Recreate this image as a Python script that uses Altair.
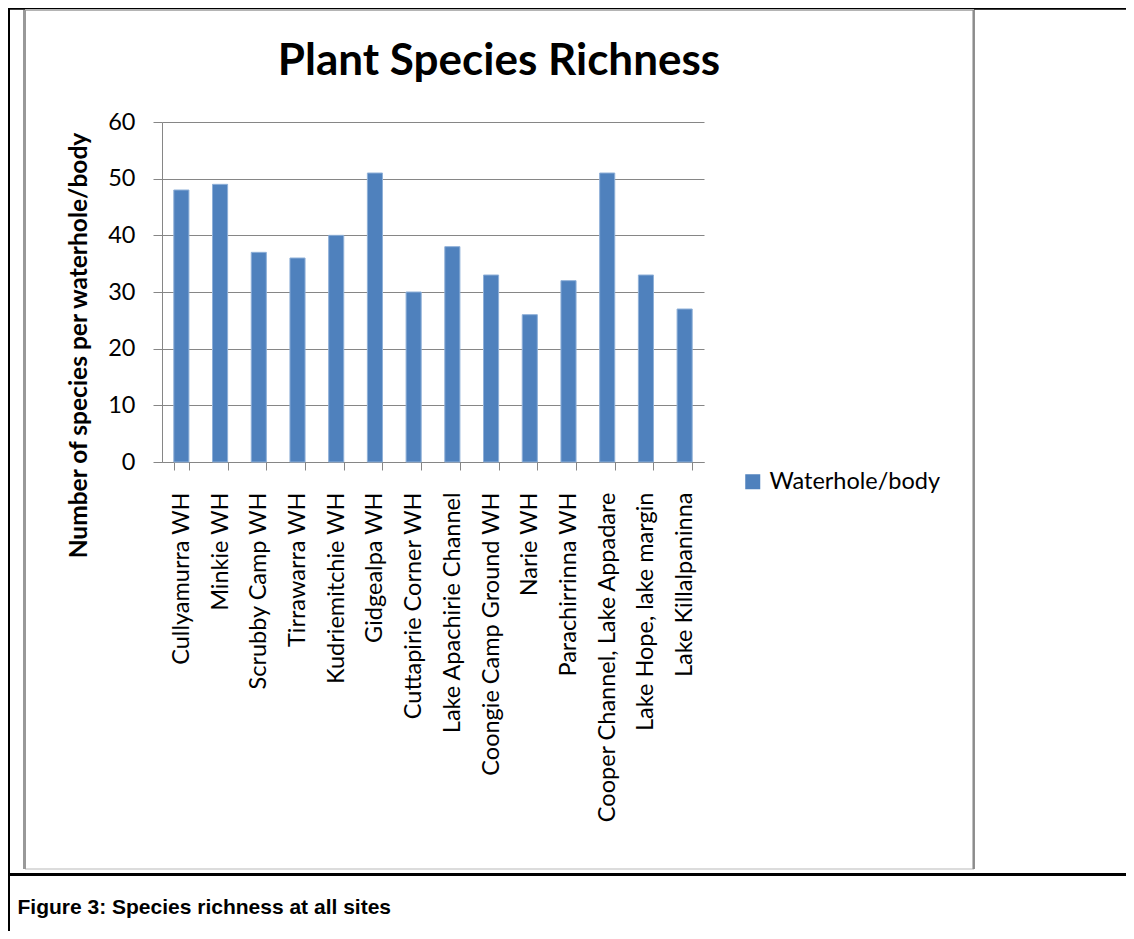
import altair as alt
import pandas as pd

sites = [
    "Cullyamurra WH", "Minkie WH", "Scrubby Camp WH", "Tirrawarra WH",
    "Kudriemitchie WH", "Gidgealpa WH", "Cuttapirie Corner WH",
    "Lake Apachirie Channel", "Coongie Camp Ground WH", "Narie WH",
    "Parachirrinna WH", "Cooper Channel, Lake Appadare",
    "Lake Hope, lake margin", "Lake Killalpaninna",
]
richness = [48, 49, 37, 36, 40, 51, 30, 38, 33, 26, 32, 51, 33, 27]
series_name = "Waterhole/body"
y_ticks = [0, 10, 20, 30, 40, 50, 60]

title_text = "Plant Species Richness"
y_title = "Number of species per waterhole/body"
caption = "Figure 3: Species richness at all sites"

df = pd.DataFrame({"site": sites, "richness": richness, "series": [series_name] * len(sites)})

W, H = 542, 340
PAD_L, PAD_T = 154, 114
TOTAL_W, TOTAL_H = 1118, 923

FONT = "Lato"
GRAY = "#868686"
LABEL_SIZE = 23.5

bars = alt.Chart(df).mark_bar(stroke="#8fb0d8", strokeWidth=1).encode(
    x=alt.X(
        "site:N",
        sort=sites,
        scale=alt.Scale(paddingInner=0.61, paddingOuter=0.305),
        axis=alt.Axis(
            title=caption,
            titleFont="Liberation Sans",
            titleFontWeight="bold",
            titleFontSize=21,
            titleColor="#000000",
            titleAnchor="start",
            titleAlign="left",
            titleBaseline="alphabetic",
            titleX=-145,
            titleY=451,
            labelAngle=270,
            labelFont=FONT,
            labelFontSize=LABEL_SIZE,
            labelColor="#000000",
            labelPadding=22,
            labelLimit=400,
            tickBand="extent",
            tickSize=8,
            tickColor=GRAY,
            domainColor=GRAY,
            grid=False,
        ),
    ),
    y=alt.Y(
        "richness:Q",
        scale=alt.Scale(domain=[0, 60], nice=False),
        axis=alt.Axis(
            values=y_ticks,
            title=y_title,
            titleFont=FONT,
            titleFontWeight="bold",
            titleFontSize=24.5,
            titleColor="#000000",
            titleAngle=270,
            titleAlign="center",
            titleBaseline="middle",
            titleX=-83,
            titleY=223,
            labelFont=FONT,
            labelFontSize=LABEL_SIZE,
            labelColor="#000000",
            labelPadding=18,
            tickSize=9,
            tickColor=GRAY,
            domainColor=GRAY,
            gridColor=GRAY,
            gridWidth=1,
            grid=True,
        ),
    ),
    color=alt.Color(
        "series:N",
        scale=alt.Scale(domain=[series_name], range=["#4F81BD"]),
        legend=alt.Legend(
            title=None,
            orient="none",
            legendX=579,
            legendY=348,
            symbolType="square",
            symbolSize=225,
            symbolStrokeWidth=0,
            labelFont=FONT,
            labelFontSize=LABEL_SIZE,
            labelColor="#000000",
            labelOffset=5,
            labelLimit=400,
            padding=0,
        ),
    ),
)

frame_df = pd.DataFrame({"k": [0]})


def hline(y, x1, x2, color, sw):
    return alt.Chart(frame_df).mark_rule(color=color, strokeWidth=sw).encode(
        x=alt.value(x1), x2=alt.value(x2), y=alt.value(y)
    )


def vline(x, y1, y2, color, sw):
    return alt.Chart(frame_df).mark_rule(color=color, strokeWidth=sw).encode(
        x=alt.value(x), y=alt.value(y1), y2=alt.value(y2)
    )


decor = [
    # document table borders
    hline(-113.5, -154, TOTAL_W - PAD_L, "#000000", 2.5),
    vline(-153, -114, TOTAL_H - PAD_T, "#000000", 2),
    hline(752.5, -154, TOTAL_W - PAD_L, "#000000", 3),
    # chart object frame
    hline(-112, -137, 812, "#b4b4b4", 2),
    hline(747, -137, 812, "#d0d0d0", 1.5),
    vline(-137.5, -112, 747, "#999999", 3),
    vline(811.7, -112, 747, "#8c8c8c", 2.5),
]

chart = alt.layer(*decor, bars).properties(
    width=W,
    height=H,
    autosize=alt.AutoSizeParams(type="none"),
    padding={"left": PAD_L, "top": PAD_T, "right": TOTAL_W - PAD_L - W, "bottom": TOTAL_H - PAD_T - H},
    title=alt.TitleParams(
        text=title_text,
        font=FONT,
        fontSize=44,
        fontWeight="bold",
        color="#000000",
        anchor="middle",
        frame="group",
        baseline="alphabetic",
        dx=66,
        dy=142,
        offset=30,
    ),
).configure_view(strokeWidth=0)

chart.save("out.html", embed_options={"renderer": "svg", "actions": False})
